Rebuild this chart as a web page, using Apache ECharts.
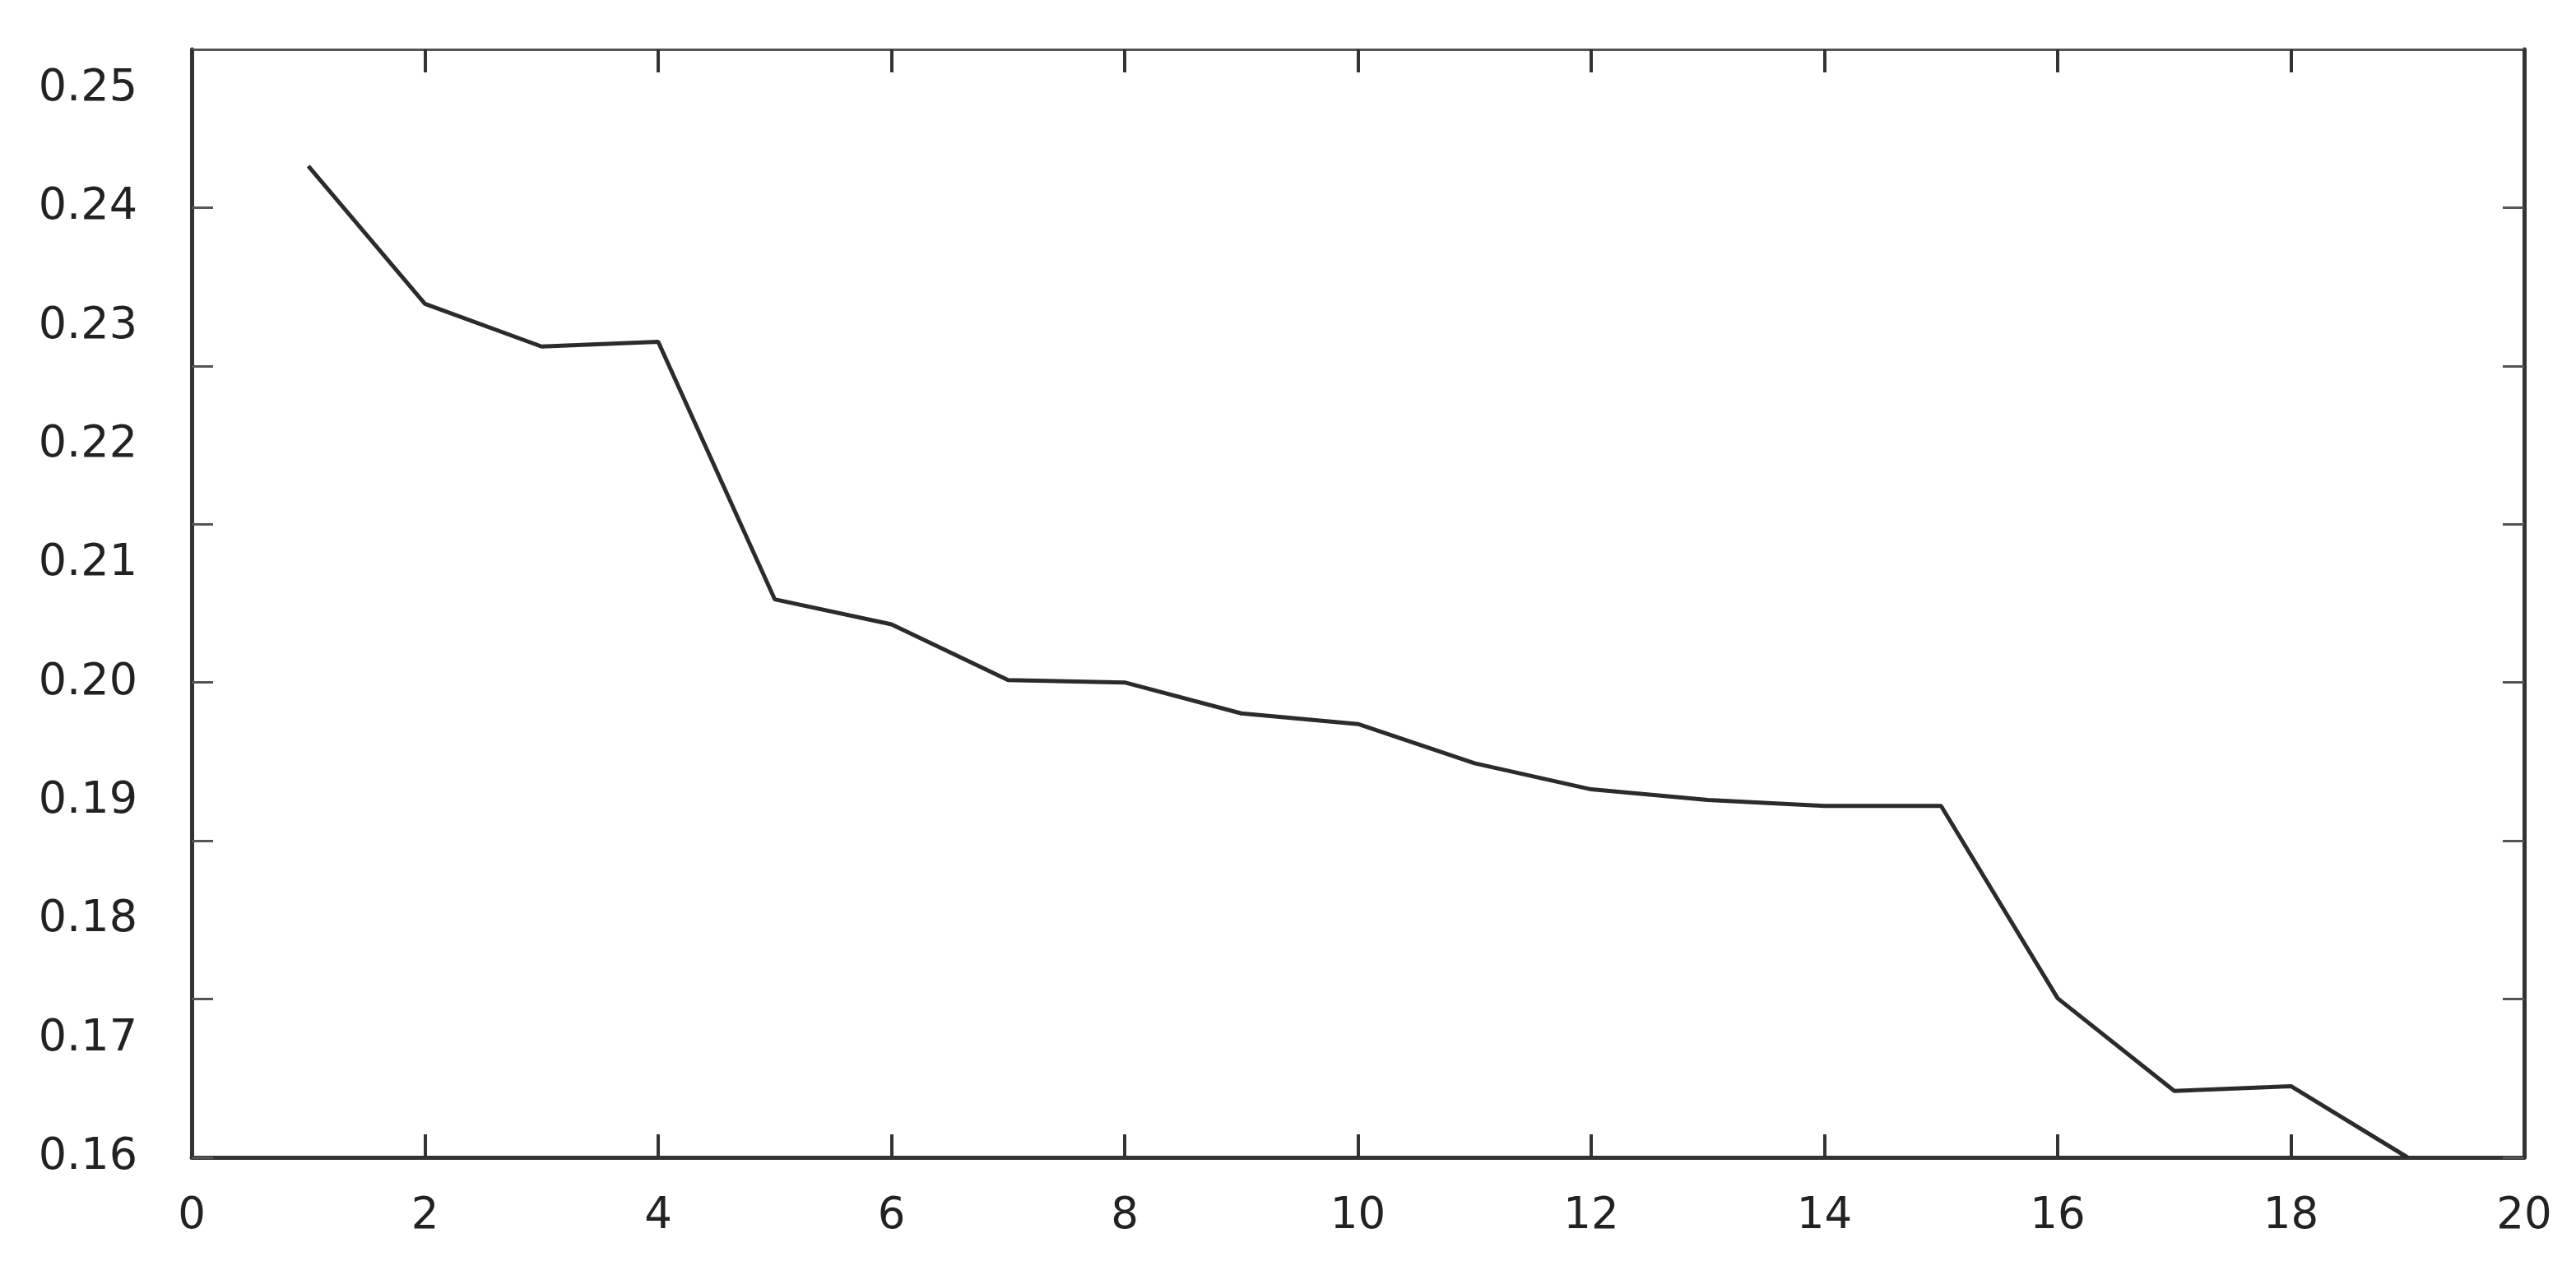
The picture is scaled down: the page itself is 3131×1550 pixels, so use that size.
<!DOCTYPE html>
<html>
<head>
<meta charset="utf-8">
<script src="https://cdn.jsdelivr.net/npm/echarts@6/dist/echarts.min.js"></script>
<style>
html,body{margin:0;padding:0;background:#fff;}
#chart{width:3131px;height:1550px;}
</style>
</head>
<body>
<div id="chart"></div>
<script>
// x positions (iteration index)
const xValues = [1, 2, 3, 4, 5, 6, 7, 8, 9, 10, 11, 12, 13, 14, 15, 16, 17, 18, 19];
// series values
const yValues = [0.2435, 0.2319, 0.2283, 0.2287, 0.2070, 0.2049, 0.2002, 0.2000, 0.1974, 0.1965,
                 0.1932, 0.1910, 0.1901, 0.1896, 0.1896, 0.1734, 0.1656, 0.1660, 0.1600];
// y-axis tick labels (text) and the tick marks drawn on the frame
const yLabelValues = [0.16, 0.17, 0.18, 0.19, 0.20, 0.21, 0.22, 0.23, 0.24, 0.25];
const yTickValues = [0.16, 0.17333, 0.18667, 0.20, 0.21333, 0.22667, 0.24];
const yMin = 0.16, yMax = 0.25333;
const xMin = 0, xMax = 20, xInterval = 2;

const chart = echarts.init(document.getElementById('chart'), null, {renderer: 'canvas'});
const font = '"DejaVu Sans", Verdana, sans-serif';
const lineCol = '#333';

const option = {
  backgroundColor: '#fff',
  animation: false,
  grid: {left: 233, right: 63, top: 60, bottom: 143},
  xAxis: [
    {
      type: 'value', min: xMin, max: xMax, interval: xInterval, position: 'bottom',
      axisLine: {show: true, onZero: false, lineStyle: {color: lineCol, width: 5}},
      axisTick: {show: true, inside: true, length: 28, lineStyle: {color: lineCol, width: 4}},
      axisLabel: {show: true, margin: 46, fontFamily: font, fontSize: 53, color: '#222'},
      splitLine: {show: false}
    },
    {
      type: 'value', min: xMin, max: xMax, interval: xInterval, position: 'top',
      axisLine: {show: true, onZero: false, lineStyle: {color: '#555', width: 3}},
      axisTick: {show: true, inside: true, length: 28, lineStyle: {color: lineCol, width: 4}},
      axisLabel: {show: false},
      splitLine: {show: false}
    }
  ],
  yAxis: [
    {
      type: 'value', min: yMin, max: yMax, position: 'left',
      axisLine: {show: true, onZero: false, lineStyle: {color: lineCol, width: 5}},
      axisTick: {show: true, inside: true, length: 26, customValues: yTickValues, lineStyle: {color: '#555', width: 3}},
      axisLabel: {show: true, margin: 66, customValues: yLabelValues, fontFamily: font, fontSize: 54, color: '#222',
                  formatter: v => v.toFixed(2)},
      splitLine: {show: false}
    },
    {
      type: 'value', min: yMin, max: yMax, position: 'right',
      axisLine: {show: true, onZero: false, lineStyle: {color: lineCol, width: 5}},
      axisTick: {show: true, inside: true, length: 26, customValues: yTickValues, lineStyle: {color: '#555', width: 3}},
      axisLabel: {show: false},
      splitLine: {show: false}
    }
  ],
  series: [
    {
      type: 'line',
      xAxisIndex: 0, yAxisIndex: 0,
      data: xValues.map((x, i) => [x, yValues[i]]),
      showSymbol: false,
      symbol: 'none',
      lineStyle: {color: '#2b2b2b', width: 5},
      z: 1
    }
  ]
};
chart.setOption(option);
</script>
</body>
</html>
